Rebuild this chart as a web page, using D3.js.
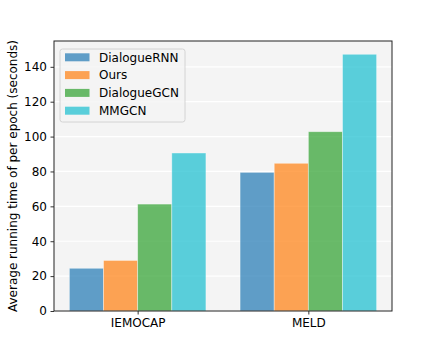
<!DOCTYPE html>
<html><head><meta charset="utf-8">
<script src="https://cdn.jsdelivr.net/npm/d3@7"></script>
<style>body{margin:0;background:#fff}svg{display:block}text{font-family:"DejaVu Sans",sans-serif}</style>
</head><body>
<svg id="c" width="436" height="349"></svg>
<script>
const categories = ["IEMOCAP", "MELD"];
const seriesNames = ["DialogueRNN", "Ours", "DialogueGCN", "MMGCN"];
const seriesColors = ["#1f77b4", "#ff7f0e", "#2ca02c", "#17becf"];
const dialogueRNN = [24.5, 79.5];
const ours = [29, 84.7];
const dialogueGCN = [61.3, 102.8];
const mmgcn = [90.6, 147.2];
const yTicks = [0, 20, 40, 60, 80, 100, 120, 140];
const yLabel = "Average running time of per epoch (seconds)";

const series = [dialogueRNN, ours, dialogueGCN, mmgcn];
const svg = d3.select("#c");
const m = {l: 54, r: 392, t: 41, b: 311};
const x = d3.scaleLinear().domain([-0.49, 1.49]).range([m.l, m.r]);
const y = d3.scaleLinear().domain([0, 154.8]).range([m.b, m.t]);
const bw = 0.2;
const fs = 12;

svg.append("rect").attr("x", m.l).attr("y", m.t).attr("width", m.r - m.l).attr("height", m.b - m.t).attr("fill", "#f4f4f4");

svg.append("g").selectAll("line").data(yTicks).join("line")
  .attr("x1", m.l).attr("x2", m.r).attr("y1", d => y(d)).attr("y2", d => y(d))
  .attr("stroke", "#fff").attr("stroke-width", 1.2);

series.forEach((vals, si) => {
  svg.append("g").selectAll("rect").data(vals).join("rect")
    .attr("x", (d, i) => x(i - 0.4 + si * bw))
    .attr("width", x(bw) - x(0))
    .attr("y", d => y(d))
    .attr("height", d => y(0) - y(d))
    .attr("fill", seriesColors[si]).attr("fill-opacity", 0.7)
    .attr("stroke", "#fff").attr("stroke-opacity", 0.5).attr("stroke-width", 0.8);
});

const yAxis = d3.axisLeft(y).tickValues(yTicks).tickSize(3.5).tickPadding(3.5);
const gy = svg.append("g").attr("transform", `translate(${m.l},0)`).call(yAxis);
const xAxis = d3.axisBottom(x).tickValues([0, 1]).tickFormat((d) => categories[d]).tickSize(3.5).tickPadding(4);
const gx = svg.append("g").attr("transform", `translate(0,${m.b})`).call(xAxis);
[gx, gy].forEach(g => {
  g.select(".domain").remove();
  g.selectAll("text").attr("font-size", fs).attr("fill", "#000").attr("font-family", "DejaVu Sans");
  g.selectAll("line").attr("stroke", "#000").attr("stroke-width", 0.8);
});

svg.append("rect").attr("x", m.l).attr("y", m.t).attr("width", m.r - m.l).attr("height", m.b - m.t)
  .attr("fill", "none").attr("stroke", "#222").attr("stroke-width", 1);

svg.append("text").attr("transform", `translate(17,${(m.t + m.b) / 2}) rotate(-90)`)
  .attr("text-anchor", "middle").attr("font-size", 12).attr("fill", "#000").text(yLabel);

const lg = svg.append("g").attr("transform", `translate(60,49)`);
lg.append("rect").attr("x", 0).attr("y", 0).attr("width", 125).attr("height", 73).attr("rx", 2.5)
  .attr("fill", "#f4f4f4").attr("fill-opacity", 0.8).attr("stroke", "#ccc").attr("stroke-width", 0.8);
seriesNames.forEach((n, i) => {
  const yy = 8.3 + i * 17.8;
  lg.append("rect").attr("x", 5).attr("y", yy - 4).attr("width", 24.5).attr("height", 8)
    .attr("fill", seriesColors[i]).attr("fill-opacity", 0.7);
  lg.append("text").attr("x", 39).attr("y", yy + 4.3).attr("font-size", fs).attr("fill", "#000").text(n);
});
</script>
</body></html>
